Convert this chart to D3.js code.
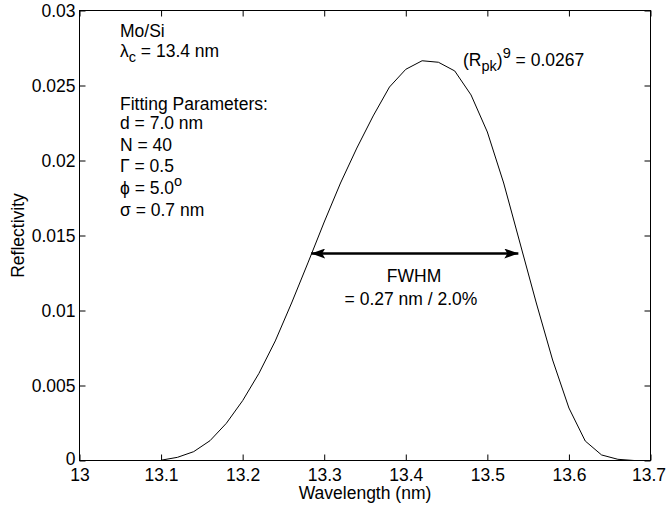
<!DOCTYPE html>
<html><head><meta charset="utf-8">
<script src="https://cdn.jsdelivr.net/npm/d3@7"></script>
<style>
html,body{margin:0;padding:0;background:#fff;}
text{font-family:"Liberation Sans",Arial,Helvetica,sans-serif;fill:#000;}
</style></head>
<body>
<svg id="chart" width="666" height="507"></svg>
<script>
// ---- data ----
const wavelength = [13.10,13.12,13.14,13.16,13.18,13.20,13.22,13.24,13.26,13.28,13.30,13.32,13.34,13.36,13.38,13.40,13.42,13.44,13.46,13.48,13.50,13.52,13.54,13.56,13.58,13.60,13.62,13.64,13.66,13.68];
const reflectivity = [0.00002,0.00021,0.00059,0.00132,0.00248,0.00399,0.00581,0.00797,0.01050,0.01317,0.01590,0.01850,0.02083,0.02297,0.02490,0.02608,0.02665,0.02655,0.02597,0.02437,0.02190,0.01850,0.01450,0.01050,0.00670,0.00350,0.00130,0.00037,0.00008,0.0];
const xTicks = [13,13.1,13.2,13.3,13.4,13.5,13.6,13.7];
const xTickLabels = ["13","13.1","13.2","13.3","13.4","13.5","13.6","13.7"];
const yTicks = [0,0.005,0.01,0.015,0.02,0.025,0.03];
const yTickLabels = ["0","0.005","0.01","0.015","0.02","0.025","0.03"];
const fwhm = [13.284, 13.538];   // arrow ends (nm)
const fwhmLevel = 0.0138;

const svg = d3.select("#chart");
const L = 79.5, R = 650.5, T = 10.5, B = 460.5;
const x = d3.scaleLinear().domain([13,13.7]).range([L,R]);
const y = d3.scaleLinear().domain([0,0.03]).range([B,T]);
const FS = 17.5;

// frame
svg.append("rect").attr("x",L).attr("y",T).attr("width",R-L).attr("height",B-T)
  .attr("fill","none").attr("stroke","#000").attr("stroke-width",1);

function styleAxis(g){
  g.select(".domain").remove();
  g.selectAll(".tick line").attr("stroke","#000").attr("stroke-width",1);
  g.selectAll(".tick text").style("font-size",FS+"px").attr("fill","#000");
}
const xa = svg.append("g").attr("transform",`translate(0,${B})`)
  .call(d3.axisBottom(x).tickValues(xTicks).tickFormat((d,i)=>xTickLabels[i]).tickSize(-6).tickPadding(8));
styleAxis(xa);
xa.selectAll(".tick text").filter((d,i)=>i===xTicks.length-1).attr("text-anchor","end").attr("x",15);
const xt = svg.append("g").attr("transform",`translate(0,${T})`)
  .call(d3.axisTop(x).tickValues(xTicks).tickFormat("").tickSize(-6));
styleAxis(xt);
const ya = svg.append("g").attr("transform",`translate(${L},0)`)
  .call(d3.axisLeft(y).tickValues(yTicks).tickFormat((d,i)=>yTickLabels[i]).tickSize(-6).tickPadding(4));
styleAxis(ya);
ya.selectAll(".tick text").filter((d,i)=>i===0).attr("dy","0.2em");
const yr = svg.append("g").attr("transform",`translate(${R},0)`)
  .call(d3.axisRight(y).tickValues(yTicks).tickFormat("").tickSize(-6));
styleAxis(yr);

// curve
const pts = wavelength.map((w,i)=>[w,reflectivity[i]]);
svg.append("path").datum(pts)
  .attr("d", d3.line().x(d=>x(d[0])).y(d=>y(d[1])))
  .attr("fill","none").attr("stroke","#000").attr("stroke-width",1);

// FWHM arrow
const defs = svg.append("defs");
function marker(id, orient){
  defs.append("marker").attr("id",id).attr("viewBox","0 0 14 10").attr("refX",14).attr("refY",5)
    .attr("markerWidth",14).attr("markerHeight",10).attr("markerUnits","userSpaceOnUse").attr("orient",orient)
    .append("path").attr("d","M0,0 L14,5 L0,10 L3,5 Z").attr("fill","#000");
}
marker("ah","auto"); marker("ahs","auto-start-reverse");
svg.append("line").attr("x1",x(fwhm[0])).attr("x2",x(fwhm[1]))
  .attr("y1",y(fwhmLevel)).attr("y2",y(fwhmLevel))
  .attr("stroke","#000").attr("stroke-width",2.5)
  .attr("marker-end","url(#ah)").attr("marker-start","url(#ahs)");

svg.append("text").attr("x",414).attr("y",282).attr("text-anchor","middle").style("font-size",FS+"px").text("FWHM");
svg.append("text").attr("x",411).attr("y",305).attr("text-anchor","middle").style("font-size",FS+"px").text("= 0.27 nm / 2.0%");

// annotation block
function addText(xp, yp, parts){
  const t = svg.append("text").attr("x",xp).attr("y",yp).style("font-size",FS+"px");
  parts.forEach(p=>{
    const s = t.append("tspan").text(p.t);
    if(p.sub){ s.attr("dy",5).style("font-size",(FS-3)+"px"); }
    if(p.sup){ s.attr("dy",-8).style("font-size",(FS-3)+"px"); }
    if(p.back){ s.attr("dy",p.back); }
  });
  return t;
}
addText(120,37,[{t:"Mo/Si"}]);
addText(120,57,[{t:"λ"},{t:"c",sub:true},{t:" = 13.4 nm",back:-5}]);
addText(120,109.5,[{t:"Fitting Parameters:"}]);
addText(120,128.5,[{t:"d = 7.0 nm"}]);
addText(120,150.5,[{t:"N = 40"}]);
addText(120,172,[{t:"Γ = 0.5"}]);
addText(120,194,[{t:"ϕ = 5.0"},{t:"o",sup:true}]);
addText(120,215.5,[{t:"σ = 0.7 nm"}]);
addText(463,66,[{t:"(R"},{t:"pk",sub:true},{t:")",back:-5},{t:"9",sup:true},{t:" = 0.0267",back:8}]);

// axis labels
svg.append("text").attr("x",(L+R)/2).attr("y",499).attr("text-anchor","middle").style("font-size",FS+"px").text("Wavelength (nm)");
svg.append("text").attr("transform",`translate(24,${(T+B)/2}) rotate(-90)`).attr("text-anchor","middle").style("font-size",FS+"px").text("Reflectivity");
</script>
</body></html>
